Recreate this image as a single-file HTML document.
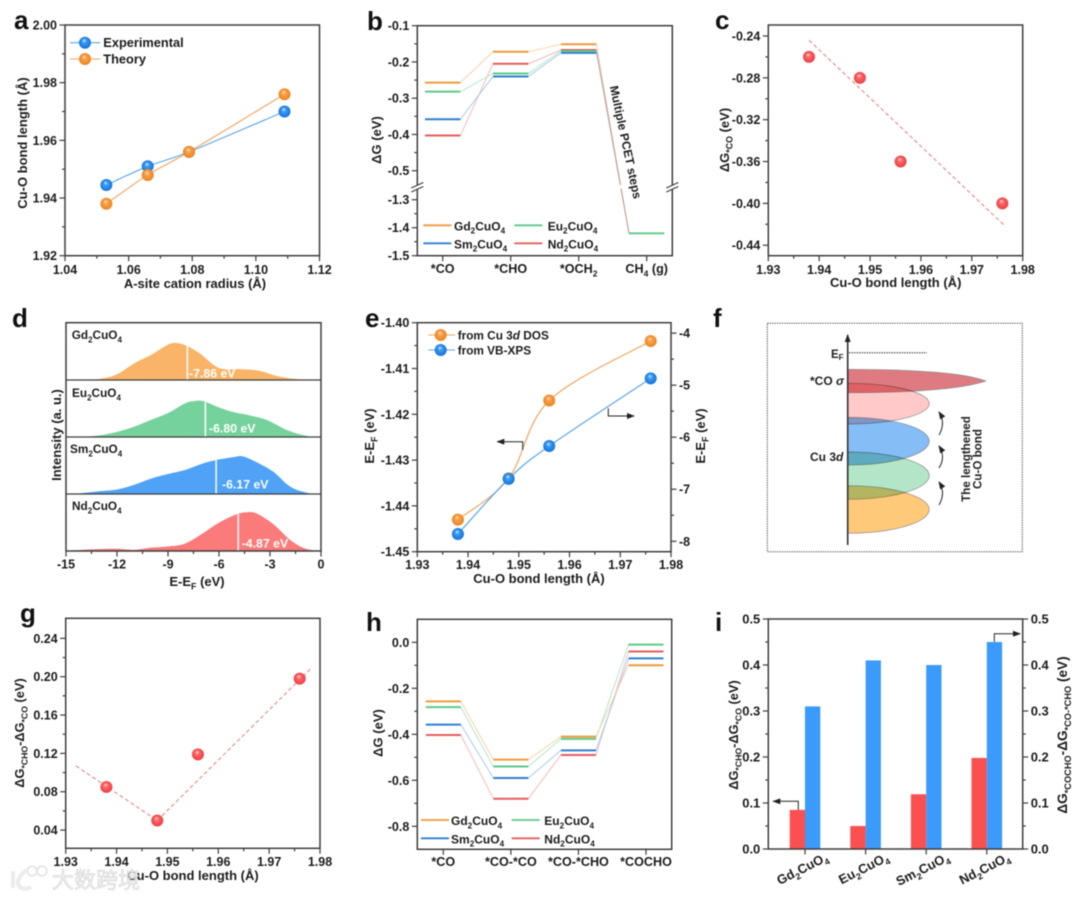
<!DOCTYPE html>
<html lang="en">
<head>
<meta charset="utf-8">
<title>Cu-O bond length and free energy panels</title>
<style>
html,body{margin:0;padding:0;background:#fff;width:1080px;height:900px;overflow:hidden}
svg{display:block;filter:blur(.6px);font-family:"Liberation Sans","Noto Sans CJK SC",sans-serif;font-weight:700}
.frame{fill:none;stroke:#3d3d3d;stroke-width:1.5}
.tick{stroke:#3d3d3d;stroke-width:1.2}
.panel-letter{font-size:26px;fill:#111}
</style>
</head>
<body>
<svg id="figure" xmlns="http://www.w3.org/2000/svg" width="1080" height="900" viewBox="0 0 1080 900">
<defs>
<radialGradient id="ball-blue" cx="50%" cy="50%" r="55%" fx="42%" fy="30%"><stop offset="0" stop-color="#d8edff"/><stop offset=".32" stop-color="#3b9bf2"/><stop offset="1" stop-color="#0f6fd6"/></radialGradient>
<radialGradient id="ball-orange" cx="50%" cy="50%" r="55%" fx="42%" fy="30%"><stop offset="0" stop-color="#ffe8cc"/><stop offset=".32" stop-color="#f8a048"/><stop offset="1" stop-color="#ea801c"/></radialGradient>
<radialGradient id="ball-red" cx="50%" cy="50%" r="55%" fx="42%" fy="30%"><stop offset="0" stop-color="#ffe2e2"/><stop offset=".32" stop-color="#f66"/><stop offset="1" stop-color="#e83a3f"/></radialGradient>
<marker id="arrow-head" markerWidth="8" markerHeight="6" refX="7" refY="3" orient="auto" markerUnits="userSpaceOnUse"><path d="M0 0L8 3L0 6Z" fill="#222"/></marker>
</defs>
<rect width="1080" height="900" fill="#fff"/>
<g id="panel-a"></g>
<g id="panel-b"></g>
<g id="panel-c"></g>
<g id="panel-d"></g>
<g id="panel-e"></g>
<g id="panel-f">
  <rect x="767.3" y="323.3" width="255" height="228.4" fill="none" stroke="#555" stroke-width="1" stroke-dasharray="1.4 1"/>
  <g style="isolation:isolate" stroke="#8a8a8a" stroke-width=".7">
    <path d="M847.7 485.7A81.6 23.8 0 0 1 847.7 533.3Z" fill="#ffc97a" style="mix-blend-mode:multiply"/>
    <path d="M847.7 452A81.6 23.65 0 0 1 847.7 499.3Z" fill="#b3e6c8" style="mix-blend-mode:multiply"/>
    <path d="M847.7 417.3A81.6 23.85 0 0 1 847.7 465Z" fill="#85bdf7" style="mix-blend-mode:multiply"/>
    <path d="M847.7 383.3A81.6 20.35 0 0 1 847.7 424Z" fill="#ffc9c9" style="mix-blend-mode:multiply"/>
    <path d="M847.7 369.3C920 369.5 965 373 985.7 381C965 388 920 392.5 847.7 392.7Z" fill="#df7b80" style="mix-blend-mode:multiply"/>
  </g>
  <line x1="847.7" y1="545" x2="847.7" y2="335" stroke="#333" stroke-width="1.6" marker-end="url(#arrow-head)"/>
  <line x1="849" y1="352.7" x2="927" y2="352.7" stroke="#333" stroke-width="1" stroke-dasharray="1.5 1"/>
  <path d="M939 505Q946 493 939 482" fill="none" stroke="#222" stroke-width="1" marker-end="url(#arrow-head)"/>
  <path d="M939 468Q946 457 939 446" fill="none" stroke="#222" stroke-width="1" marker-end="url(#arrow-head)"/>
  <path d="M939 435Q946 423 939 412" fill="none" stroke="#222" stroke-width="1" marker-end="url(#arrow-head)"/>
  <text x="831" y="358" font-size="11.5" fill="#222">E<tspan font-size="8" dy="2">F</tspan></text>
  <text x="810" y="385" font-size="12" fill="#222">*CO <tspan font-style="italic">σ</tspan></text>
  <text x="810" y="461" font-size="12" fill="#222">Cu 3<tspan font-style="italic">d</tspan></text>
  <text transform="rotate(-90 970 459)" x="970" y="459" text-anchor="middle" font-size="11.6" fill="#222">The lengthened</text>
  <text transform="rotate(-90 981.5 459)" x="981.5" y="459" text-anchor="middle" font-size="11.6" fill="#222">Cu-O bond</text>
</g>
<g id="panel-g"></g>
<g id="panel-h"></g>
<g id="panel-i"></g>
<text class="panel-letter" x="14" y="29">a</text>
<text class="panel-letter" x="367" y="30">b</text>
<text class="panel-letter" x="715" y="29">c</text>
<text class="panel-letter" x="12" y="327">d</text>
<text class="panel-letter" x="365" y="327">e</text>
<text class="panel-letter" x="713" y="327">f</text>
<text class="panel-letter" x="20" y="622">g</text>
<text class="panel-letter" x="366" y="631">h</text>
<text class="panel-letter" x="715" y="631">i</text>
<g opacity=".95">
  <path d="M13 871V888M26 870Q15 880 19 886Q23 891 31 887" fill="none" stroke="#ececec" stroke-width="4"/>
  <circle cx="32" cy="871" r="4.8" fill="none" stroke="#e6e6e6" stroke-width="2"/>
  <circle cx="42" cy="871" r="4.8" fill="none" stroke="#e6e6e6" stroke-width="2"/>
  <text x="52" y="888" font-size="22" fill="#f0f0f0" stroke="#cdcdcd" stroke-width=".5" style="font-family:'Noto Sans CJK SC',sans-serif;font-weight:400">大数跨境</text>
</g>
</svg>
<script>
// Panel a
const aRadius = [1.053, 1.066, 1.079, 1.109];
const aExperimental = [1.9445, 1.951, 1.956, 1.970];
const aTheory = [1.938, 1.948, 1.956, 1.976];
const aXTicks = [1.04, 1.06, 1.08, 1.10, 1.12];
const aYTicks = [1.92, 1.94, 1.96, 1.98, 2.00];
// Panel b
const bSteps = ['*CO', '*CHO', '*OCH_{2}', 'CH_{4} (g)'];
const bGd = [-0.257, -0.172, -0.151];
const bEu = [-0.282, -0.232, -0.170];
const bSm = [-0.358, -0.240, -0.175];
const bNd = [-0.403, -0.205, -0.167];
const bMethane = [-1.42];
const bUpperTicks = [-0.1, -0.2, -0.3, -0.4, -0.5];
const bLowerTicks = [-1.3, -1.4, -1.5];
// Panel c
const cBond = [1.938, 1.948, 1.956, 1.976];
const cDeltaG = [-0.26, -0.28, -0.36, -0.40];
const cFitBond = [1.938, 1.9765];
const cFitDeltaG = [-0.244, -0.4215];
const cXTicks = [1.93, 1.94, 1.95, 1.96, 1.97, 1.98];
const cYTicks = [-0.44, -0.40, -0.36, -0.32, -0.28, -0.24];
// Panel d
const dGdEnergy = [-14.2, -13, -12, -11, -10, -9, -8.5, -7.9, -7.1, -6.3, -5.7, -4.7, -3.6, -2.6, -1.6, -0.7];
const dGdIntensity = [0, 0.02, 0.10, 0.29, 0.44, 0.62, 0.65, 0.60, 0.46, 0.26, 0.19, 0.19, 0.16, 0.07, 0.02, 0];
const dEuEnergy = [-14, -13, -12, -11, -10, -9, -8, -7.5, -6.9, -6.1, -5.2, -4.2, -3.2, -2.2, -1.4, -0.5];
const dEuIntensity = [0, 0.03, 0.09, 0.18, 0.30, 0.42, 0.59, 0.63, 0.63, 0.53, 0.44, 0.38, 0.30, 0.15, 0.06, 0];
const dSmEnergy = [-14.5, -13, -12, -11, -10, -9, -8, -7, -6.1, -5.1, -4.6, -3.8, -2.8, -2, -1.4, -0.5];
const dSmIntensity = [0, 0.05, 0.08, 0.16, 0.27, 0.35, 0.42, 0.53, 0.60, 0.65, 0.66, 0.56, 0.39, 0.17, 0.07, 0];
const dNdEnergy = [-15, -13.4, -12, -11, -10, -9, -8, -7, -6.1, -5.1, -4.4, -3.8, -2.8, -1.8, -1, -0.2];
const dNdIntensity = [0, 0.03, 0.04, 0.02, 0.06, 0.08, 0.13, 0.30, 0.48, 0.63, 0.68, 0.66, 0.47, 0.19, 0.05, 0];
const dCenters = [-7.86, -6.80, -6.17, -4.87];
const dCenterLabels = ['-7.86 eV', '-6.80 eV', '-6.17 eV', '-4.87 eV'];
const dCompounds = ['Gd_{2}CuO_{4}', 'Eu_{2}CuO_{4}', 'Sm_{2}CuO_{4}', 'Nd_{2}CuO_{4}'];
const dXTicks = [-15, -12, -9, -6, -3, 0];
// Panel e
const eBond = [1.938, 1.948, 1.956, 1.976];
const eCuDos = [-1.443, -1.434, -1.417, -1.404];
const eVbXps = [-7.86, -6.80, -6.17, -4.87];
const eXTicks = [1.93, 1.94, 1.95, 1.96, 1.97, 1.98];
const eLeftTicks = [-1.45, -1.44, -1.43, -1.42, -1.41, -1.40];
const eRightTicks = [-8, -7, -6, -5, -4];
// Panel g
const gBond = [1.938, 1.948, 1.956, 1.976];
const gGap = [0.085, 0.05, 0.119, 0.198];
const gFitLeftBond = [1.932, 1.948];
const gFitLeftGap = [0.107, 0.05];
const gFitRightBond = [1.948, 1.9785];
const gFitRightGap = [0.05, 0.21];
const gXTicks = [1.93, 1.94, 1.95, 1.96, 1.97, 1.98];
const gYTicks = [0.04, 0.08, 0.12, 0.16, 0.20, 0.24];
// Panel h
const hSteps = ['*CO', '*CO-*CO', '*CO-*CHO', '*COCHO'];
const hGd = [-0.257, -0.51, -0.41, -0.10];
const hEu = [-0.282, -0.54, -0.42, -0.01];
const hSm = [-0.358, -0.59, -0.47, -0.07];
const hNd = [-0.403, -0.68, -0.49, -0.04];
const hYTicks = [-0.8, -0.6, -0.4, -0.2, 0];
// Panel i
const iCompounds = ['Gd_{2}CuO_{4}', 'Eu_{2}CuO_{4}', 'Sm_{2}CuO_{4}', 'Nd_{2}CuO_{4}'];
const iChoMinusCo = [0.085, 0.05, 0.119, 0.198];
const iCochoMinusCho = [0.31, 0.41, 0.40, 0.45];
const iYTicks = [0, 0.1, 0.2, 0.3, 0.4, 0.5];

const SVGNS = 'http://www.w3.org/2000/svg';
const INK = '#1c1c1c';
const COLORS = {gd: '#ee9a3c', eu: '#5cc98a', sm: '#2f7fd0', nd: '#e65c5c'};
const PALE = {gd: '#f7d2aa', eu: '#b5e6ca', sm: '#a8ccf0', nd: '#f5bcbc'};
const TITLE = 13;
const TICK = 12.5;

function scale(d0, d1, r0, r1) {
  return function (v) { return r0 + (v - d0) / (d1 - d0) * (r1 - r0); };
}
function make(parent, tag, attrs, name) {
  const el = document.createElementNS(SVGNS, tag);
  for (const k in attrs) el.setAttribute(k, attrs[k]);
  
  
  parent.appendChild(el);
  return el;
}
function seg(parent, x1, y1, x2, y2, attrs, name) {
  return make(parent, 'line', Object.assign({x1: x1, y1: y1, x2: x2, y2: y2}, attrs), name);
}
function label(parent, x, y, str, opt, name) {
  opt = opt || {};
  const fs = opt.size || 12;
  const attrs = {x: x, y: y, 'font-size': fs, fill: opt.fill || INK, 'text-anchor': opt.anchor || 'start'};
  if (opt.rotate) attrs.transform = 'rotate(' + opt.rotate + ' ' + x + ' ' + y + ')';
  const el = make(parent, 'text', attrs, name);
  const re = /_\{([^}]*)\}|~([^~]*)~/g;
  let last = 0, m, pendingDy = 0;
  function span(s, a) {
    if (!s) return;
    const t = document.createElementNS(SVGNS, 'tspan');
    for (const k in a) t.setAttribute(k, a[k]);
    if (pendingDy) { t.setAttribute('dy', pendingDy); pendingDy = 0; }
    t.textContent = s;
    el.appendChild(t);
  }
  while ((m = re.exec(str))) {
    span(str.slice(last, m.index), {});
    if (m[1] !== undefined) {
      const shift = fs * 0.28;
      span(m[1], {'font-size': fs * 0.68, dy: shift});
      pendingDy = -shift;
    } else {
      span(m[2], {'font-style': 'italic'});
    }
    last = re.lastIndex;
  }
  span(str.slice(last), {});
  return el;
}
function frame(parent, L, T, R, B) {
  return make(parent, 'rect', {class: 'frame', x: L, y: T, width: R - L, height: B - T}, 'plot-frame');
}
function mids(ticks) {
  const out = [];
  for (let i = 0; i < ticks.length - 1; i++) out.push((ticks[i] + ticks[i + 1]) / 2);
  return out;
}
function xAxis(parent, x, B, ticks, fmt, opt) {
  opt = opt || {};
  ticks.forEach(function (t, i) {
    seg(parent, x(t), B, x(t), B + 5.5, {class: 'tick'}, 'x-tick');
    if (fmt) label(parent, x(t), opt.labelY, fmt(t, i), {anchor: 'middle', size: opt.size || TICK}, 'x-tick-label');
  });
  if (opt.minor !== false) mids(ticks).forEach(function (t) {
    seg(parent, x(t), B, x(t), B + 3, {class: 'tick'}, 'x-minor-tick');
  });
}
function yAxis(parent, y, X, side, ticks, fmt, opt) {
  opt = opt || {};
  const sign = side === 'left' ? -1 : 1;
  const size = opt.size || TICK;
  ticks.forEach(function (t) {
    seg(parent, X, y(t), X + sign * 5.5, y(t), {class: 'tick'}, 'y-tick');
    label(parent, X + sign * (opt.gap || 8), y(t) + size * 0.36, fmt(t), {anchor: side === 'left' ? 'end' : 'start', size: size}, 'y-tick-label');
  });
  if (opt.minor !== false) mids(ticks).forEach(function (t) {
    seg(parent, X, y(t), X + sign * 3, y(t), {class: 'tick'}, 'y-minor-tick');
  });
}
function smoothPath(pts) {
  let d = 'M' + pts[0][0] + ' ' + pts[0][1];
  for (let i = 0; i < pts.length - 1; i++) {
    const p0 = pts[i - 1] || pts[i], p1 = pts[i], p2 = pts[i + 1], p3 = pts[i + 2] || p2;
    d += 'C' + (p1[0] + (p2[0] - p0[0]) / 6) + ' ' + (p1[1] + (p2[1] - p0[1]) / 6) + ' ' +
      (p2[0] - (p3[0] - p1[0]) / 6) + ' ' + (p2[1] - (p3[1] - p1[1]) / 6) + ' ' + p2[0] + ' ' + p2[1];
  }
  return d;
}
function pointsOf(xs, ys, x, y) {
  return xs.map(function (v, i) { return [x(v), y(ys[i])]; });
}
function ball(parent, cx, cy, kind, name) {
  return make(parent, 'circle', {cx: cx, cy: cy, r: 6, fill: 'url(#ball-' + kind + ')'}, name);
}
function arrow(parent, d, name) {
  return make(parent, 'path', {d: d, fill: 'none', stroke: '#222', 'stroke-width': 1, 'marker-end': 'url(#arrow-head)'}, name);
}
function levels(parent, x, y, series, halfWidth, palette, color, key) {
  for (let i = 0; i < series.length - 1; i++) {
    seg(parent, x(i) + halfWidth, y(series[i]), x(i + 1) - halfWidth, y(series[i + 1]), {stroke: palette, 'stroke-width': 1}, key + '-connector');
  }
  series.forEach(function (v, i) {
    seg(parent, x(i) - halfWidth, y(v), x(i) + halfWidth, y(v), {stroke: color, 'stroke-width': 2}, key + '-level');
  });
}
function compoundLegend(parent, x0, x1, tx0, tx1, y0, y1) {
  const rows = [
    [x0, tx0, y0, 'gd', 'Gd_{2}CuO_{4}'], [x1, tx1, y0, 'eu', 'Eu_{2}CuO_{4}'],
    [x0, tx0, y1, 'sm', 'Sm_{2}CuO_{4}'], [x1, tx1, y1, 'nd', 'Nd_{2}CuO_{4}']
  ];
  rows.forEach(function (r) {
    seg(parent, r[0], r[2], r[0] + 28, r[2], {stroke: COLORS[r[3]], 'stroke-width': 1.8}, 'legend-line-' + r[3]);
    label(parent, r[1], r[2] + 5, r[4], {}, 'legend-label-' + r[3]);
  });
}
const f2 = function (v) { return v.toFixed(2); };
const f1 = function (v) { return v.toFixed(1); };
const f0 = function (v) { return v.toFixed(0); };

/* Panel a */
(function () {
  const g = document.getElementById('panel-a');
  const L = 65, R = 319.5, T = 25, B = 255.7;
  const x = scale(1.04, 1.12, L, R), y = scale(1.92, 2.00, B, T);
  frame(g, L, T, R, B);
  xAxis(g, x, B, aXTicks, f2, {labelY: 274});
  yAxis(g, y, L, 'left', aYTicks, f2);
  label(g, 195, 288, 'A-site cation radius (Å)', {anchor: 'middle', size: TITLE}, 'x-axis-title');
  label(g, 27, 143, 'Cu-O bond length (Å)', {anchor: 'middle', rotate: -90, size: TITLE}, 'y-axis-title');
  make(g, 'path', {d: smoothPath(pointsOf(aRadius, aExperimental, x, y)), fill: 'none', stroke: '#5da6e8', 'stroke-width': 1.1}, 'experimental-line');
  make(g, 'path', {d: smoothPath(pointsOf(aRadius, aTheory, x, y)), fill: 'none', stroke: '#eea562', 'stroke-width': 1.1}, 'theory-line');
  aRadius.forEach(function (v, i) { ball(g, x(v), y(aExperimental[i]), 'blue', 'experimental-point'); });
  aRadius.forEach(function (v, i) { ball(g, x(v), y(aTheory[i]), 'orange', 'theory-point'); });
  seg(g, 70, 42.7, 100, 42.7, {stroke: '#5da6e8', 'stroke-width': 1.1}, 'legend-line-experimental');
  ball(g, 85, 42.7, 'blue', 'legend-marker-experimental');
  label(g, 103.3, 47, 'Experimental', {size: 12.8}, 'legend-label-experimental');
  seg(g, 70, 59, 100, 59, {stroke: '#eea562', 'stroke-width': 1.1}, 'legend-line-theory');
  ball(g, 85, 59, 'orange', 'legend-marker-theory');
  label(g, 103.3, 63.3, 'Theory', {size: 12.8}, 'legend-label-theory');
})();

/* Panel b */
(function () {
  const g = document.getElementById('panel-b');
  const L = 417.3, R = 672.3, T = 25.7, B = 255.7;
  const x = scale(0, 3, 442.7, 646.7);
  const upper = scale(-0.1, -0.5, 25.7, 170.7), lower = scale(-1.3, -1.5, 199.7, 255.7);
  const y = function (v) { return v > -0.8 ? upper(v) : lower(v); };
  const half = 17.7;
  frame(g, L, T, R, B);
  xAxis(g, x, B, [0, 1, 2, 3], function (t, i) { return bSteps[i]; }, {labelY: 273, minor: false, size: 12.6});
  yAxis(g, upper, L, 'left', bUpperTicks, f1);
  yAxis(g, lower, L, 'left', bLowerTicks, f1);
  label(g, 381, 140, 'ΔG (eV)', {anchor: 'middle', rotate: -90, size: TITLE}, 'y-axis-title');
  const series = [[bGd, 'gd'], [bNd, 'nd'], [bSm, 'sm'], [bEu, 'eu']];
  series.forEach(function (s) {
    seg(g, x(2) + half, y(s[0][2]), x(3) - half, y(bMethane[0]), {stroke: '#b08070', 'stroke-width': .8, 'stroke-opacity': .45}, s[1] + '-drop-line');
  });
  series.forEach(function (s) { levels(g, x, y, s[0], half, PALE[s[1]], COLORS[s[1]], s[1]); });
  seg(g, x(3) - half, y(bMethane[0]), x(3) + half, y(bMethane[0]), {stroke: COLORS.eu, 'stroke-width': 1.8}, 'methane-level');
  [[L, 'left'], [R, 'right'], [617, 'drop']].forEach(function (b) {
    make(g, 'rect', {x: b[0] - 8, y: 185, width: 16, height: 3.8, fill: '#fff'}, 'axis-break-gap-' + b[1]);
    if (b[1] !== 'drop') {
      seg(g, b[0] - 6, 188, b[0] + 6, 182.5, {stroke: '#3d3d3d', 'stroke-width': 1.2}, 'axis-break-mark');
      seg(g, b[0] - 6, 192, b[0] + 6, 186.5, {stroke: '#3d3d3d', 'stroke-width': 1.2}, 'axis-break-mark');
    }
  });
  label(g, 621.7, 143, 'Multiple PCET steps', {anchor: 'middle', rotate: 78, size: 12}, 'multiple-pcet-annotation');
  compoundLegend(g, 423.3, 514.3, 454, 547.7, 225.3, 243.3);
})();

/* Panel c */
(function () {
  const g = document.getElementById('panel-c');
  const L = 768.3, R = 1022.7, T = 25, B = 255.7;
  const x = scale(1.93, 1.98, L, R), y = scale(-0.45, -0.2295, B, T);
  frame(g, L, T, R, B);
  xAxis(g, x, B, cXTicks, f2, {labelY: 274});
  yAxis(g, y, L, 'left', cYTicks, f2);
  label(g, 895.7, 287, 'Cu-O bond length (Å)', {anchor: 'middle', size: TITLE}, 'x-axis-title');
  label(g, 729, 140, 'ΔG_{*CO} (eV)', {anchor: 'middle', rotate: -90, size: TITLE}, 'y-axis-title');
  seg(g, x(cFitBond[0]), y(cFitDeltaG[0]), x(cFitBond[1]), y(cFitDeltaG[1]), {stroke: '#e08a8a', 'stroke-width': 1.1, 'stroke-dasharray': '4 2.6'}, 'fit-line');
  cBond.forEach(function (v, i) { ball(g, x(v), y(cDeltaG[i]), 'red', 'data-point'); });
})();

/* Panel d */
(function () {
  const g = document.getElementById('panel-d');
  const L = 66, R = 321, T = 322.7;
  const rows = [380, 437, 494, 551];
  const x = scale(-15, 0, L, R);
  const fills = ['#f9b467', '#76d29c', '#4fa2f5', '#fb7a7a'];
  const energies = [dGdEnergy, dEuEnergy, dSmEnergy, dNdEnergy];
  const values = [dGdIntensity, dEuIntensity, dSmIntensity, dNdIntensity];
  const textY = [339, 397, 453, 510];
  const textX = [71.7, 72, 70, 72];
  const valueX = [189, 209, 222, 241.7];
  const valueY = [377.7, 432.7, 488.7, 547.3];
  function interp(xs, ys, v) {
    for (let i = 0; i < xs.length - 1; i++) {
      if (v >= xs[i] && v <= xs[i + 1]) return ys[i] + (ys[i + 1] - ys[i]) * (v - xs[i]) / (xs[i + 1] - xs[i]);
    }
    return 0;
  }
  rows.forEach(function (base, k) {
    const y = scale(0, 1, base, base - 57);
    const pts = pointsOf(energies[k], values[k], x, y);
    const d = smoothPath(pts) + 'L' + pts[pts.length - 1][0] + ' ' + base + 'L' + pts[0][0] + ' ' + base + 'Z';
    make(g, 'path', {d: d, fill: fills[k]}, 'dos-area-' + k);
    const c = dCenters[k];
    seg(g, x(c), base, x(c), y(interp(energies[k], values[k], c)), {stroke: '#fff', 'stroke-width': 1.5}, 'd-band-center-line-' + k);
    label(g, valueX[k], valueY[k], dCenterLabels[k], {fill: '#fff', size: 12.3}, 'd-band-center-value-' + k);
    label(g, textX[k], textY[k], dCompounds[k], {size: 11.8}, 'compound-label-' + k);
  });
  rows.slice(0, 3).forEach(function (base) {
    seg(g, L, base, R, base, {stroke: '#3d3d3d', 'stroke-width': 1.3}, 'panel-divider');
  });
  frame(g, L, T, R, 551);
  xAxis(g, x, 551, dXTicks, f0, {labelY: 568.5});
  label(g, 197, 586, 'E-E_{F} (eV)', {anchor: 'middle', size: TITLE}, 'x-axis-title');
  label(g, 61, 435, 'Intensity (a. u.)', {anchor: 'middle', rotate: -90, size: TITLE}, 'y-axis-title');
})();

/* Panel e */
(function () {
  const g = document.getElementById('panel-e');
  const L = 417.3, R = 671, T = 322.7, B = 551.7;
  const x = scale(1.93, 1.98, L, R);
  const yLeft = scale(-1.45, -1.40, B, T), yRight = scale(-8.2, -3.8, B, T);
  frame(g, L, T, R, B);
  xAxis(g, x, B, eXTicks, f2, {labelY: 569});
  yAxis(g, yLeft, L, 'left', eLeftTicks, f2);
  yAxis(g, yRight, R, 'right', eRightTicks, f0);
  label(g, 539, 583, 'Cu-O bond length (Å)', {anchor: 'middle', size: TITLE}, 'x-axis-title');
  label(g, 374, 436, 'E-E_{F} (eV)', {anchor: 'middle', rotate: -90, size: TITLE}, 'y-axis-title-left');
  label(g, 705, 436, 'E-E_{F} (eV)', {anchor: 'middle', rotate: -90, size: TITLE}, 'y-axis-title-right');
  make(g, 'path', {d: smoothPath(pointsOf(eBond, eCuDos, x, yLeft)), fill: 'none', stroke: '#eea562', 'stroke-width': 1.2}, 'cu-dos-line');
  make(g, 'path', {d: smoothPath(pointsOf(eBond, eVbXps, x, yRight)), fill: 'none', stroke: '#5da6e8', 'stroke-width': 1.2}, 'vb-xps-line');
  eBond.forEach(function (v, i) { ball(g, x(v), yLeft(eCuDos[i]), 'orange', 'cu-dos-point'); });
  eBond.forEach(function (v, i) { ball(g, x(v), yRight(eVbXps[i]), 'blue', 'vb-xps-point'); });
  seg(g, 428.3, 335, 455, 335, {stroke: '#eea562', 'stroke-width': 1.1}, 'legend-line-cu-dos');
  ball(g, 440.7, 335, 'orange', 'legend-marker-cu-dos');
  label(g, 457.7, 339.5, 'from Cu 3~d~ DOS', {size: 11.8}, 'legend-label-cu-dos');
  seg(g, 428.3, 350, 455, 350, {stroke: '#5da6e8', 'stroke-width': 1.1}, 'legend-line-vb-xps');
  ball(g, 440.7, 350, 'blue', 'legend-marker-vb-xps');
  label(g, 457.7, 354.5, 'from VB-XPS', {size: 11.8}, 'legend-label-vb-xps');
  arrow(g, 'M522.7 450V441.7H497.3', 'left-axis-arrow');
  arrow(g, 'M608.3 408.3V416H634', 'right-axis-arrow');
})();

/* Panel g */
(function () {
  const g = document.getElementById('panel-g');
  const L = 65.7, R = 320, T = 618.3, B = 848.3;
  const x = scale(1.93, 1.98, L, R), y = scale(0.021, 0.2609, B, T);
  frame(g, L, T, R, B);
  xAxis(g, x, B, gXTicks, f2, {labelY: 866});
  yAxis(g, y, L, 'left', gYTicks, f2);
  label(g, 193, 880, 'Cu-O bond length (Å)', {anchor: 'middle', size: TITLE}, 'x-axis-title');
  label(g, 24, 733, 'ΔG_{*CHO}-ΔG_{*CO} (eV)', {anchor: 'middle', rotate: -90, size: 12.8}, 'y-axis-title');
  seg(g, x(gFitLeftBond[0]), y(gFitLeftGap[0]), x(gFitLeftBond[1]), y(gFitLeftGap[1]), {stroke: '#e08a8a', 'stroke-width': 1.1, 'stroke-dasharray': '4 2.6'}, 'fit-line-left');
  seg(g, x(gFitRightBond[0]), y(gFitRightGap[0]), x(gFitRightBond[1]), y(gFitRightGap[1]), {stroke: '#e08a8a', 'stroke-width': 1.1, 'stroke-dasharray': '4 2.6'}, 'fit-line-right');
  gBond.forEach(function (v, i) { ball(g, x(v), y(gGap[i]), 'red', 'data-point'); });
})();

/* Panel h */
(function () {
  const g = document.getElementById('panel-h');
  const L = 417.3, R = 671.7, T = 619.3, B = 849.3;
  const x = scale(0, 3, 443.3, 646), y = scale(0.1, -0.9, T, B);
  const half = 17.5;
  frame(g, L, T, R, B);
  xAxis(g, x, B, [0, 1, 2, 3], function (t, i) { return hSteps[i]; }, {labelY: 866, minor: false, size: 12.6});
  yAxis(g, y, L, 'left', hYTicks, f1);
  label(g, 382.5, 733, 'ΔG (eV)', {anchor: 'middle', rotate: -90, size: TITLE}, 'y-axis-title');
  levels(g, x, y, hNd, half, PALE.nd, COLORS.nd, 'nd');
  levels(g, x, y, hSm, half, PALE.sm, COLORS.sm, 'sm');
  levels(g, x, y, hEu, half, PALE.eu, COLORS.eu, 'eu');
  levels(g, x, y, hGd, half, PALE.gd, COLORS.gd, 'gd');
  compoundLegend(g, 421, 511.7, 451, 544.3, 820, 838.3);
})();

/* Panel i */
(function () {
  const g = document.getElementById('panel-i');
  const L = 768.3, R = 1022.7, T = 619, B = 849;
  const x = scale(0, 3, 805, 986.8), y = scale(0, 0.5, B, T);
  const w = 15.3;
  iCompounds.forEach(function (name, i) {
    make(g, 'rect', {x: x(i) - w, y: y(iChoMinusCo[i]), width: w, height: B - y(iChoMinusCo[i]), fill: '#fb5050'}, 'bar-cho-minus-co-' + i);
    make(g, 'rect', {x: x(i), y: y(iCochoMinusCho[i]), width: w, height: B - y(iCochoMinusCho[i]), fill: '#3b9bfb'}, 'bar-cocho-minus-cho-' + i);
  });
  frame(g, L, T, R, B);
  xAxis(g, x, B, [0, 1, 2, 3], null, {minor: false});
  yAxis(g, y, L, 'left', iYTicks, f1, {size: 13});
  yAxis(g, y, R, 'right', iYTicks, f1, {size: 13});
  iCompounds.forEach(function (name, i) {
    label(g, x(i) + 24, 860, name, {anchor: 'end', rotate: -27, size: 13}, 'category-label');
  });
  label(g, 738, 735, 'ΔG_{*CHO}-ΔG_{*CO} (eV)', {anchor: 'middle', rotate: -90, size: 12.8}, 'y-axis-title-left');
  label(g, 1067, 735, 'ΔG_{*COCHO}-ΔG_{*CO-*CHO} (eV)', {anchor: 'middle', rotate: -90, size: 13.6}, 'y-axis-title-right');
  arrow(g, 'M798.3 810V801.3H773.3', 'left-axis-arrow');
  arrow(g, 'M994.3 641.7V633.7H1020', 'right-axis-arrow');
})();
</script>
</body>
</html>
